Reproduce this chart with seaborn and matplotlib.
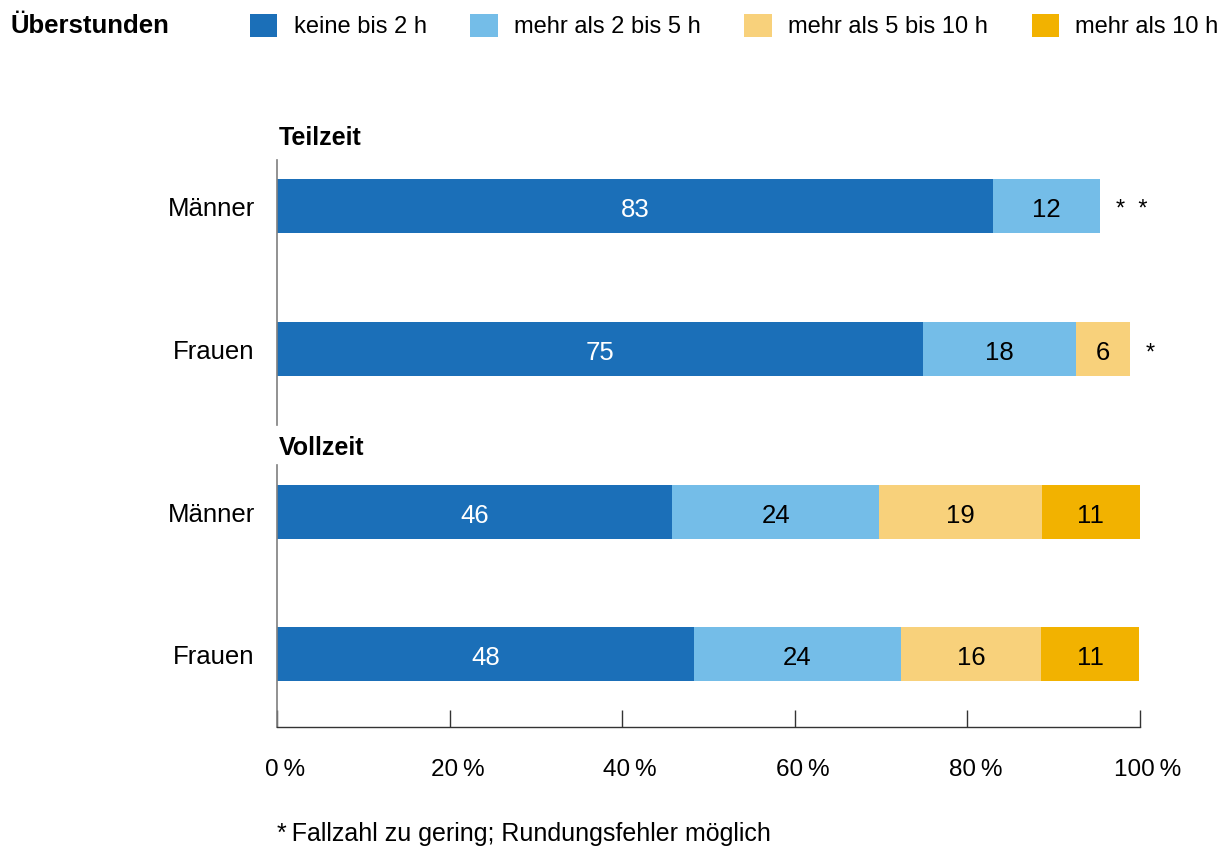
import matplotlib
matplotlib.use("Agg")
import matplotlib.pyplot as plt
import matplotlib.transforms as mtransforms
from matplotlib.patches import Patch
import pandas as pd
import seaborn as sns

# data (percent)
sexes = ["Männer", "Frauen"]
categories = ["keine bis 2 h", "mehr als 2 bis 5 h", "mehr als 5 bis 10 h", "mehr als 10 h"]
colors = ["#1b6fb8", "#74bde8", "#f8d17b", "#f2b200"]
label_colors = ["white", "black", "black", "black"]

tz_maenner = [83.0, 12.4, 0.0, 0.0]
tz_frauen = [74.9, 17.7, 6.2, 0.0]
vz_maenner = [45.8, 24.0, 18.8, 11.4]
vz_frauen = [48.3, 24.0, 16.2, 11.4]

tz_notes = ["*  *", "*"]
vz_notes = ["", ""]

x_ticks = [0, 20, 40, 60, 80, 100]
x_ticklabels = ["0\u2009%", "20\u2009%", "40\u2009%", "60\u2009%", "80\u2009%", "100\u2009%"]

sns.set_style("white")
plt.rcParams["font.family"] = ["Liberation Sans", "DejaVu Sans"]
plt.rcParams["text.color"] = "black"
plt.rcParams["xtick.color"] = "black"
plt.rcParams["ytick.color"] = "black"
plt.rcParams["axes.labelcolor"] = "black"

W, H = 1230, 848
fig = plt.figure(figsize=(W / 100, H / 100), dpi=100)


def fx(px):
    return px / W


def fy(py):
    return 1 - py / H


def draw_group(ax, rows, notes, ylim, bottom_axis):
    df = pd.DataFrame(rows, index=sexes, columns=categories)
    cum = df.cumsum(axis=1)
    # draw cumulative bars from the right so the left segments sit on top
    for i in reversed(range(len(categories))):
        cat = categories[i]
        sub = pd.DataFrame({"sex": sexes, "val": cum[cat].values, "raw": df[cat].values})
        sub = sub[sub["raw"] > 0]
        sns.barplot(data=sub, x="val", y="sex", order=sexes, orient="h",
                    color=colors[i], width=0.378, linewidth=0, saturation=1,
                    ax=ax, errorbar=None)
    # segment labels
    for r, sex in enumerate(sexes):
        start = 0
        for i, cat in enumerate(categories):
            v = df.loc[sex, cat]
            if v > 0:
                ax.text(start + v / 2, r + 0.03, f"{v:.0f}", ha="center", va="center",
                        fontsize=18.5, color=label_colors[i])
            start += v
        if notes[r]:
            ax.text(start + 1.8, r + 0.03, notes[r], ha="left", va="center", fontsize=17)
    ax.set_xlim(0, 100)
    ax.set_ylim(*ylim)
    ax.set_xlabel("")
    ax.set_ylabel("")
    ax.tick_params(axis="y", length=0, pad=16, labelsize=18.5)
    for s in ["top", "right"]:
        ax.spines[s].set_visible(False)
    ax.spines["left"].set_color("#7f7f7f")
    ax.spines["left"].set_linewidth(1.2)
    if bottom_axis:
        ax.spines["bottom"].set_color("#333333")
        ax.spines["bottom"].set_linewidth(1.0)
        ax.set_xticks(x_ticks)
        ax.set_xticklabels(x_ticklabels, fontsize=17.5)
        ax.tick_params(axis="x", bottom=True, direction="in", length=12.5, width=1.0,
                       color="#333333", pad=23)
        offset = mtransforms.ScaledTranslation(8 / 100, 0, fig.dpi_scale_trans)
        for lbl in ax.get_xticklabels():
            lbl.set_transform(lbl.get_transform() + offset)
    else:
        ax.spines["bottom"].set_visible(False)
        ax.set_xticks([])


left, right = fx(277), fx(1140)
ax1 = fig.add_axes([left, fy(425), right - left, fy(160) - fy(425)])
ax2 = fig.add_axes([left, fy(727), right - left, fy(465) - fy(727)])

draw_group(ax1, [tz_maenner, tz_frauen], tz_notes, (1.531, -0.322), False)
draw_group(ax2, [vz_maenner, vz_frauen], vz_notes, (1.514, -0.331), True)

fig.text(fx(279), fy(138), "Teilzeit", ha="left", va="center", fontsize=18, fontweight="bold")
fig.text(fx(279), fy(448), "Vollzeit", ha="left", va="center", fontsize=18, fontweight="bold")

# legend
fig.text(fx(10), fy(26), "Überstunden", ha="left", va="center", fontsize=18.5, fontweight="bold")
handles = [Patch(facecolor=c, edgecolor="none") for c in colors]
fig.legend(handles, categories, loc="center left", bbox_to_anchor=(fx(250), fy(26)),
           ncol=4, frameon=False, fontsize=17, handlelength=1.15, handleheight=1.15,
           handletextpad=0.7, columnspacing=1.85, borderpad=0, borderaxespad=0)

fig.text(fx(277), fy(834), "*\u2009Fallzahl zu gering; Rundungsfehler möglich",
         ha="left", va="center", fontsize=18)

fig.savefig("out.png", dpi=100)
